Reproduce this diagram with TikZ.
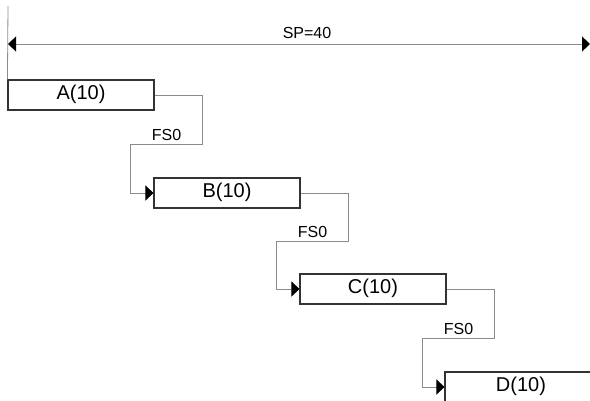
\documentclass[tikz,border=0pt]{standalone}
\usepackage{fontspec}
\setmainfont{Liberation Sans}
\usetikzlibrary{arrows.meta}
\definecolor{linegray}{HTML}{8C8C8C}
\definecolor{boxline}{HTML}{333333}
\tikzset{
  task/.style={draw=boxline, line width=1.1pt, fill=white, minimum width=146pt, minimum height=30pt, inner sep=0pt, font=\fontsize{20}{20}\selectfont, text depth=6pt, text height=14.5pt},
  conn/.style={draw=linegray, line width=0.8pt, -{Triangle[length=8pt,width=15pt,fill=black,color=black]}},
  lbl/.style={font=\fontsize{16}{16}\selectfont, anchor=base, inner sep=0pt, yshift=3.3pt},
  dim/.style={draw=linegray, line width=0.8pt, {Triangle[length=8pt,width=15pt,fill=black,color=black]}-{Triangle[length=8pt,width=15pt,fill=black,color=black]}}
}
\begin{document}
\begin{tikzpicture}[x=1pt,y=-1pt]
\clip (0,0) rectangle (590,401);
\useasboundingbox (0,0) rectangle (590,401);
\coordinate (top) at (8,6);
\coordinate (dimL) at (8,44);
\coordinate (dimR) at (590,44);
\node[task] (A) at (81,95) {A(10)};
\node[task] (B) at (227,193) {B(10)};
\node[task] (C) at (373,289) {C(10)};
\node[task, minimum width=152pt] (D) at (521,387) {D(10)};
\draw[draw=linegray, line width=0.8pt] (top) -- (A.north west);
\draw[dim] (dimL) -- (dimR);
\node[font=\fontsize{16}{16}\selectfont, anchor=base, inner sep=0pt] (sp) at (307,39) {SP=40};
\draw[conn] (A.east) -- ++(48,0) -- ++(0,49) -- ++(-72,0) node[lbl, midway] (l1) {FS0} |- (B.west);
\draw[conn] (B.east) -- ++(48,0) -- ++(0,48) -- ++(-72,0) node[lbl, midway] (l2) {FS0} |- (C.west);
\draw[conn] (C.east) -- ++(48,0) -- ++(0,49) -- ++(-72,0) node[lbl, midway] (l3) {FS0} |- (D.west);
\end{tikzpicture}
\end{document}
